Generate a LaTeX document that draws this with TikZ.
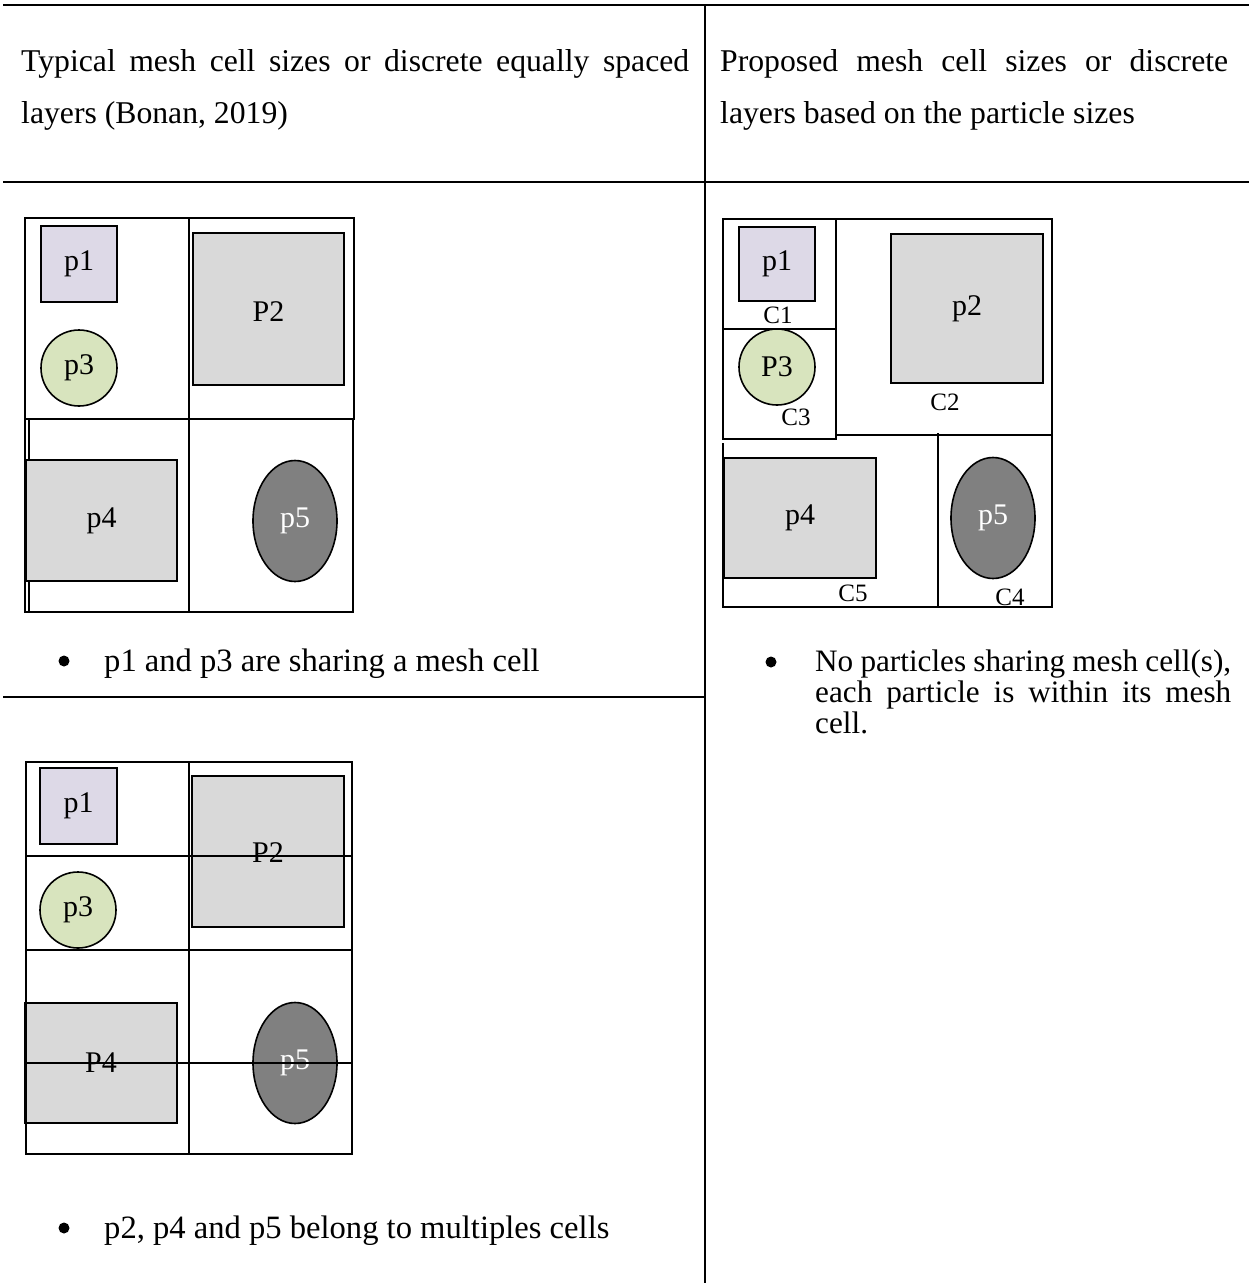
\documentclass[tikz,border=0pt]{standalone}
\usepackage{fontspec}
\setmainfont{Liberation Serif}
\usetikzlibrary{shapes.geometric}
\definecolor{lav}{HTML}{DDD9E7}
\definecolor{lgreen}{HTML}{D8E4BE}
\definecolor{lgrey}{HTML}{D9D9D9}
\definecolor{dgrey}{HTML}{808080}
\newcommand\myjust[2]{\makebox[#1][s]{#2}}
\tikzset{
  tabline/.style={line width=2pt, black},
  gl/.style={line width=1.6pt, black},
  sq/.style={draw, line width=1.6pt, rectangle, inner sep=0pt},
  ptlav/.style={fill=lav},
  ptgrey/.style={fill=lgrey},
  ptgreen/.style={draw, line width=1.6pt, circle, fill=lgreen, inner sep=0pt, minimum size=76pt},
  ptdark/.style={draw, line width=1.6pt, ellipse, fill=dgrey, inner sep=0pt, minimum width=84pt, minimum height=121pt},
  lbl/.style={font=\fontsize{30}{36}\selectfont, inner sep=0pt},
  clbl/.style={font=\fontsize{25}{30}\selectfont, inner sep=0pt},
  body/.style={font=\fontsize{31.7}{38}\selectfont, inner sep=0pt, anchor=base west},
  bodyl/.style={font=\fontsize{32.6}{38}\selectfont, inner sep=0pt, anchor=base west},
  bodyr/.style={font=\fontsize{31.2}{38}\selectfont, inner sep=0pt, anchor=base west},
  bul/.style={circle, fill=black, inner sep=0pt, minimum size=11pt},
}
\begin{document}
\begin{tikzpicture}[x=1pt,y=-1pt]
\useasboundingbox (0,0) rectangle (1249,1283);
% ---------- table frame ----------
\coordinate (tl) at (3,5);
\coordinate (tr) at (1249,5);
\coordinate (hl) at (3,182);
\coordinate (hr) at (1249,182);
\coordinate (vt) at (705,5);
\coordinate (vb) at (705,1283);
\coordinate (ml) at (3,697);
\coordinate (mr) at (705,697);
\draw[tabline] (tl) -- (tr);
\draw[tabline] (hl) -- (hr);
\draw[tabline] (vt) -- (vb);
\draw[tabline] (ml) -- (mr);
% ---------- header ----------
\node[body] (h1a) at (21,71) {\myjust{668pt}{Typical mesh cell sizes or discrete equally spaced}};
\node[body] (h1b) at (21,123) {layers (Bonan, 2019)};
\node[body] (h2a) at (720,71) {\myjust{508pt}{Proposed mesh cell sizes or discrete}};
\node[body] (h2b) at (720,123) {layers based on the particle sizes};

% ---------- grid 1 (typical) ----------
\draw[gl] (25,218) rectangle (189,419);
\draw[gl] (189,218) rectangle (354,419);
\draw[gl] (29,419) rectangle (189,612);
\draw[gl] (189,419) rectangle (353,612);
\draw[gl] (25,419) -- (25,612) -- (29,612);
\node[sq, ptlav, minimum width=76pt, minimum height=76pt] (a1) at (79,264) {};
\node[lbl] (a1t) at (a1) {p1};
\node[ptgreen] (a3) at (79,368) {};
\node[lbl] (a3t) at (a3) {p3};
\node[sq, ptgrey, minimum width=151pt, minimum height=152pt] (a2) at (268.5,309) {};
\node[lbl] (a2t) at (268.5,312) {P2};
\node[sq, ptgrey, minimum width=151pt, minimum height=121pt] (a4) at (101.5,520.5) {};
\node[lbl] (a4t) at (a4) {p4};
\node[ptdark] (a5) at (295,521) {};
\node[lbl, text=white] (a5t) at (a5) {p5};

% ---------- grid 2 (proposed) ----------
\draw[gl] (723,219) rectangle (836,329);
\draw[gl] (723,329) rectangle (836,439);
\draw[gl] (836,219) rectangle (1052,435);
\draw[gl] (723,443) -- (723,607) -- (1052,607) -- (1052,435);
\draw[gl] (938,433) -- (938,607);
\node[sq, ptlav, minimum width=76pt, minimum height=74pt] (b1) at (777,264) {};
\node[lbl] (b1t) at (b1) {p1};
\node[ptgreen] (b3) at (777,367) {};
\node[lbl] (b3t) at (b3) {P3};
\node[sq, ptgrey, minimum width=152pt, minimum height=149pt] (b2) at (967,308.5) {};
\node[lbl] (b2t) at (b2) {p2};
\node[sq, ptgrey, minimum width=152pt, minimum height=120pt] (b4) at (800,518) {};
\node[lbl] (b4t) at (b4) {p4};
\node[ptdark] (b5) at (993,518) {};
\node[lbl, text=white] (b5t) at (b5) {p5};
\node[clbl] (c1) at (778,315) {C1};
\node[clbl] (c3) at (796,417) {C3};
\node[clbl] (c2) at (945,402) {C2};
\node[clbl] (c5) at (853,593) {C5};
\node[clbl] (c4) at (1010,597) {C4};

% ---------- grid 3 (typical, finer) ----------
\node[sq, ptlav, minimum width=77pt, minimum height=76pt] (d1) at (78.5,806) {};
\node[lbl] (d1t) at (d1) {p1};
\node[ptgreen] (d3) at (78,910) {};
\node[lbl] (d3t) at (d3) {p3};
\node[sq, ptgrey, minimum width=152pt, minimum height=151pt] (d2) at (268,851.5) {};
\node[lbl] (d2t) at (268,853) {P2};
\node[sq, ptgrey, minimum width=152pt, minimum height=120pt] (d4) at (101,1063) {};
\node[lbl] (d4t) at (d4) {P4};
\node[ptdark] (d5) at (295,1063) {};
\node[lbl, text=white] (d5t) at (d5) {p5};
\draw[gl] (26,762) rectangle (352,1154);
\draw[gl] (189,762) -- (189,1154);
\draw[gl] (26,856) -- (352,856);
\draw[gl] (26,950) -- (352,950);
\draw[gl] (26,1063) -- (352,1063);

% ---------- bullets ----------
\node[bul] (bu1) at (64,661) {};
\node[bodyl] (t1) at (104,671) {p1 and p3 are sharing a mesh cell};
\node[bul] (bu2) at (771,662) {};
\node[bodyr] (t2a) at (815,671) {\myjust{416pt}{No particles sharing mesh cell(s),}};
\node[bodyr] (t2b) at (815,702) {\myjust{416pt}{each particle is within its mesh}};
\node[bodyr] (t2c) at (815,733) {cell.};
\node[bul] (bu3) at (64,1228) {};
\node[bodyl] (t3) at (104,1238) {p2, p4 and p5 belong to multiples cells};
\end{tikzpicture}
\end{document}
